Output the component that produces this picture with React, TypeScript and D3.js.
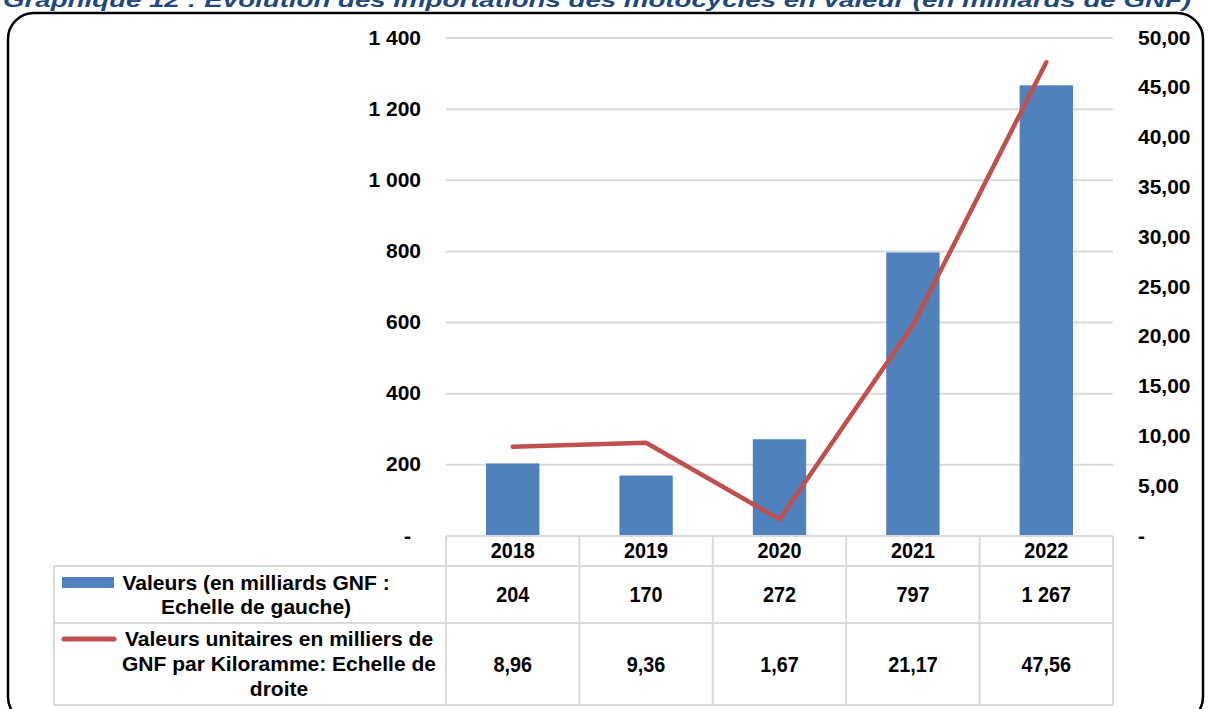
import React from 'react';
import * as d3 from 'd3';

const years = ['2018', '2019', '2020', '2021', '2022'];
const valeurs = [204, 170, 272, 797, 1267];
const valeursUnitaires = [8.96, 9.36, 1.67, 21.17, 47.56];
const leftTicks = [0, 200, 400, 600, 800, 1000, 1200, 1400];
const rightTicks = [0, 5, 10, 15, 20, 25, 30, 35, 40, 45, 50];

const title = 'Graphique 12 : Evolution des importations des motocycles en valeur (en milliards de GNF)';
const legendBar = ['Valeurs (en milliards GNF :', 'Echelle de gauche)'];
const legendLine = ['Valeurs unitaires en milliers de', 'GNF par Kiloramme: Echelle de', 'droite'];

const fr = d3.formatLocale({ decimal: ',', thousands: '\u00a0', grouping: [3], currency: ['', ''] });
const fmtInt = fr.format(',d');
const fmtDec = fr.format(',.2f');

const W = 1208;
const H = 709;
const plot = { left: 446, right: 1113, top: 38, bottom: 536 };
const rows = { header: 536, r1: 566, r2: 623, end: 705, legendLeft: 54 };

const font = '"Liberation Sans", Arial, sans-serif';
const grid = '#d9d9d9';
const blue = '#4f81bd';
const red = '#c0504d';

export default function App() {
  const x = d3.scaleBand<string>().domain(years).range([plot.left, plot.right]).paddingInner(0.6).paddingOuter(0.3);
  const band = d3.scaleBand<string>().domain(years).range([plot.left, plot.right]);
  const yL = d3.scaleLinear().domain([0, 1400]).range([plot.bottom, plot.top]);
  const yR = d3.scaleLinear().domain([0, 50]).range([plot.bottom, plot.top]);

  const line = d3
    .line<number>()
    .x((_, i) => (band(years[i]) as number) + band.bandwidth() / 2)
    .y(d => yR(d));

  const hLines = [rows.r1, rows.r2, rows.end];

  // narrow-looking cell text: squeeze horizontally
  const cell = (cx: number, cy: number, t: string) => (
    <text transform={`translate(${cx},${cy}) scale(0.9,1)`} dy="0.36em">{t}</text>
  );

  return (
    <svg width={W} height={H} style={{ position: 'absolute', left: 0, top: 0, background: '#fff' }}>
      <text
        x={3}
        y={7}
        fontFamily={font}
        fontSize={21}
        fontWeight="bold"
        fontStyle="italic"
        fill="#1f497d"
        textLength={1188}
        lengthAdjust="spacingAndGlyphs"
      >
        {title}
      </text>
      <rect x={8} y={13} width={1195} height={710} rx={26} ry={26} fill="none" stroke="#000" strokeWidth={2.5} />

      {leftTicks.filter(t => t > 0).map(t => (
        <line key={t} x1={plot.left} x2={plot.right} y1={yL(t)} y2={yL(t)} stroke={grid} strokeWidth={2} />
      ))}

      {leftTicks.map(t => (
        <text key={t} x={t === 0 ? 411 : 421} y={yL(t) - 1} dy="0.36em" textAnchor="end" fontFamily={font} fontSize={21} fontWeight="bold">
          {t === 0 ? '-' : fmtInt(t)}
        </text>
      ))}
      {rightTicks.map(t => (
        <text key={t} x={1138} y={yR(t) - 1} dy="0.36em" textAnchor="start" fontFamily={font} fontSize={21} fontWeight="bold">
          {t === 0 ? '-' : fmtDec(t)}
        </text>
      ))}

      {valeurs.map((v, i) => (
        <rect key={years[i]} x={x(years[i])} y={yL(v)} width={x.bandwidth()} height={yL(0) - yL(v)} fill={blue} />
      ))}

      <path d={line(valeursUnitaires) || ''} fill="none" stroke={red} strokeWidth={4.5} strokeLinejoin="round" strokeLinecap="round" />

      {/* data table */}
      <line x1={plot.left} x2={plot.right} y1={rows.header} y2={rows.header} stroke={grid} strokeWidth={2} />
      {hLines.map(y => (
        <line key={y} x1={rows.legendLeft} x2={plot.right} y1={y} y2={y} stroke={grid} strokeWidth={2} />
      ))}
      <line x1={rows.legendLeft} x2={rows.legendLeft} y1={rows.r1} y2={rows.end} stroke={grid} strokeWidth={2} />
      {years.concat(['end']).map((yr, i) => {
        const xx = i < years.length ? (band(yr) as number) : plot.right;
        return <line key={yr} x1={xx} x2={xx} y1={rows.header} y2={rows.end} stroke={grid} strokeWidth={2} />;
      })}

      {years.map((yr, i) => {
        const cx = (band(yr) as number) + band.bandwidth() / 2;
        return (
          <g key={yr} fontFamily={font} fontSize={22} fontWeight="bold" textAnchor="middle">
            {cell(cx, (rows.header + rows.r1) / 2 - 1, yr)}
            {cell(cx, (rows.r1 + rows.r2) / 2, fmtInt(valeurs[i]))}
            {cell(cx, (rows.r2 + rows.end) / 2, fmtDec(valeursUnitaires[i]))}
          </g>
        );
      })}

      <rect x={62} y={577} width={52} height={11} fill={blue} />
      <g fontFamily={font} fontSize={21} fontWeight="bold" textAnchor="middle">
        {legendBar.map((t, i) => (
          <text key={t} x={256} y={582 + i * 24} dy="0.36em">{t}</text>
        ))}
      </g>
      <line x1={64} x2={114} y1={639} y2={639} stroke={red} strokeWidth={5} strokeLinecap="round" />
      <g fontFamily={font} fontSize={21} fontWeight="bold" textAnchor="middle">
        {legendLine.map((t, i) => (
          <text key={t} x={279} y={638 + i * 25} dy="0.36em">{t}</text>
        ))}
      </g>
    </svg>
  );
}
